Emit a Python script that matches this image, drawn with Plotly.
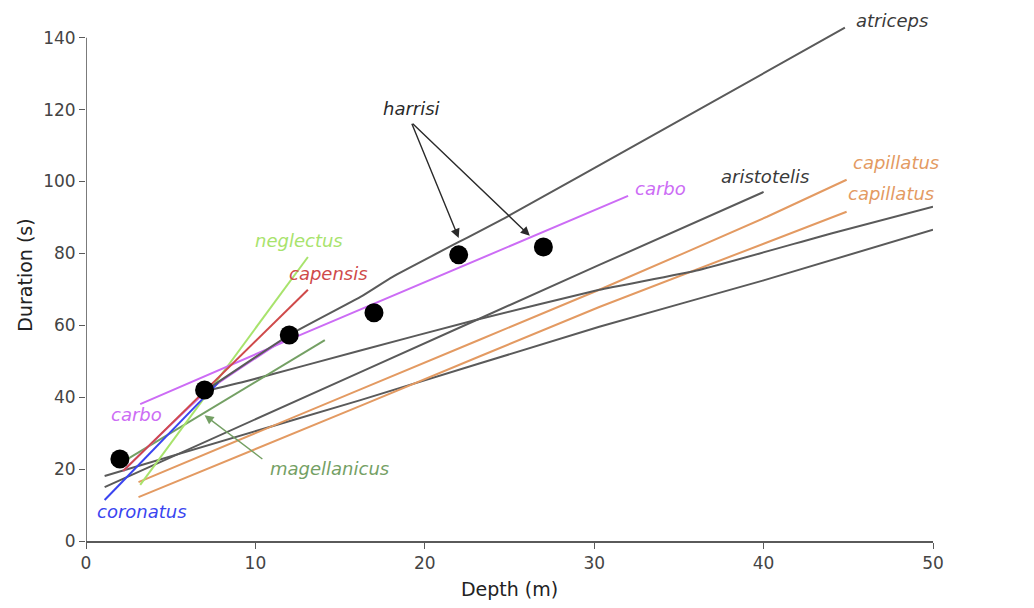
import plotly.graph_objects as go

# ---- data (depth m, duration s) ----
atriceps_x = [7.1, 12.0, 16.2, 18.1, 24.85, 33.3, 44.8]
atriceps_y = [42.0, 57.3, 67.9, 73.5, 90.2, 112.4, 142.8]

arist1_x = [1.1, 16.2, 30.3, 40.0]
arist1_y = [15.0, 47.0, 76.8, 97.1]

arist2_x = [7.3, 9.5, 16.2, 23.0, 30.3, 36.2, 44.1, 50.0]
arist2_y = [42.0, 44.5, 53.0, 61.5, 69.9, 75.4, 85.7, 93.0]

arist3_x = [1.1, 16.2, 30.3, 40.0, 50.0]
arist3_y = [18.1, 39.2, 59.6, 72.5, 86.6]

capil1_x = [3.1, 16.2, 30.3, 40.2, 44.9]
capil1_y = [16.4, 42.2, 69.9, 90.2, 100.5]

capil2_x = [3.1, 16.2, 30.3, 44.9]
capil2_y = [12.2, 37.6, 65.1, 91.6]

carbo1_x = [3.2, 12.0, 32.0]
carbo1_y = [38.1, 56.0, 96.0]

carbo2_x = [2.2, 7.1, 12.0]
carbo2_y = [19.5, 41.5, 57.0]

neglectus_x = [3.2, 13.1]
neglectus_y = [15.6, 79.0]

capensis_x = [2.2, 13.1]
capensis_y = [19.5, 69.9]

coronatus_x = [1.1, 7.8]
coronatus_y = [11.4, 44.0]

magell_x = [2.0, 14.1]
magell_y = [21.5, 55.9]

harrisi_x = [2, 7, 12, 17, 22, 27]
harrisi_y = [22.8, 42.0, 57.3, 63.5, 79.6, 81.8]

x_ticks = [0, 10, 20, 30, 40, 50]
y_ticks = [0, 20, 40, 60, 80, 100, 120, 140]

GRAY = "#5a5a5a"
ORANGE = "#e39a62"
PURPLE = "#cc6cf5"
LGREEN = "#a8e36c"
RED = "#cf4a4a"
BLUE = "#3a44f0"
DGREEN = "#74a064"

fig = go.Figure()

def line(x, y, color, width=2):
    fig.add_trace(go.Scatter(x=x, y=y, mode="lines",
                             line=dict(color=color, width=width, shape="spline", smoothing=0.4),
                             hoverinfo="skip", showlegend=False))

line(arist3_x, arist3_y, GRAY)
line(arist1_x, arist1_y, GRAY)
line(capil2_x, capil2_y, ORANGE)
line(capil1_x, capil1_y, ORANGE)
line(arist2_x, arist2_y, GRAY)
line(magell_x, magell_y, DGREEN)
line(neglectus_x, neglectus_y, LGREEN)
line(carbo1_x, carbo1_y, PURPLE)
line(carbo2_x, carbo2_y, PURPLE)
line(capensis_x, capensis_y, RED)
line(coronatus_x, coronatus_y, BLUE)
line(atriceps_x, atriceps_y, GRAY)

fig.add_trace(go.Scatter(x=harrisi_x, y=harrisi_y, mode="markers",
                         marker=dict(color="black", size=19),
                         hoverinfo="skip", showlegend=False))

# y axis line from 0 to 140
fig.add_shape(type="line", xref="x", yref="y", x0=0, x1=0, y0=0, y1=140,
              line=dict(color=GRAY, width=1.6))

FONT = "DejaVu Sans, Liberation Sans, sans-serif"

def label(text, x, y, color, xanchor="center"):
    fig.add_annotation(x=x, y=y, xref="x", yref="y", text="<i>" + text + "</i>",
                       showarrow=False, xanchor=xanchor,
                       font=dict(family=FONT, size=18, color=color))

label("atriceps", 47.6, 144.9, "#3a3a3a")
label("aristotelis", 40.1, 101.4, "#3a3a3a")
label("capillatus", 47.8, 105.2, ORANGE)
label("capillatus", 47.5, 96.6, ORANGE)
label("aristotelis", 52.9, 94.9, "#3a3a3a")
label("aristotelis", 52.9, 87.1, "#3a3a3a")
label("carbo", 33.9, 98.2, PURPLE)
label("neglectus", 12.6, 83.5, LGREEN)
label("capensis", 14.3, 74.5, RED)
label("carbo", 3.0, 35.3, PURPLE)
label("coronatus", 3.3, 8.3, BLUE)
label("magellanicus", 14.4, 20.3, DGREEN)
label("harrisi", 19.2, 120.3, "#2a2a2a")

# arrows
def arrow(x0, y0, x1, y1, color):
    fig.add_annotation(x=x1, y=y1, ax=x0, ay=y0, xref="x", yref="y", axref="x", ayref="y",
                       text="", showarrow=True, arrowhead=2, arrowsize=1.3,
                       arrowwidth=1.4, arrowcolor=color)

arrow(19.2, 116.5, 22.0, 84.3, "#2a2a2a")
arrow(19.2, 116.5, 26.2, 84.9, "#2a2a2a")
arrow(10.5, 22.5, 7.0, 35.0, DGREEN)

fig.update_layout(
    width=1018, height=592,
    margin=dict(l=78, r=93, t=1, b=59),
    plot_bgcolor="white", paper_bgcolor="white",
    font=dict(family=FONT, color="#333333"),
    xaxis=dict(range=[0, 50], tickvals=x_ticks, ticks="outside", ticklen=6, automargin=False,
               tickcolor=GRAY, tickwidth=1.4, showline=True, linecolor=GRAY, linewidth=1.6,
               showgrid=False, zeroline=False, tickfont=dict(size=17, color="#444"),
               title=dict(text="Depth (m)", font=dict(size=19, color="#222"), standoff=10)),
    yaxis=dict(range=[0, 148], tickvals=y_ticks, ticks="outside", ticklen=6, automargin=False,
               tickcolor=GRAY, tickwidth=1.4, showline=False,
               showgrid=False, zeroline=False, tickfont=dict(size=17, color="#444"),
               title=dict(text="Duration (s)", font=dict(size=19, color="#222"), standoff=5)),
)

fig.write_html("out.html")
